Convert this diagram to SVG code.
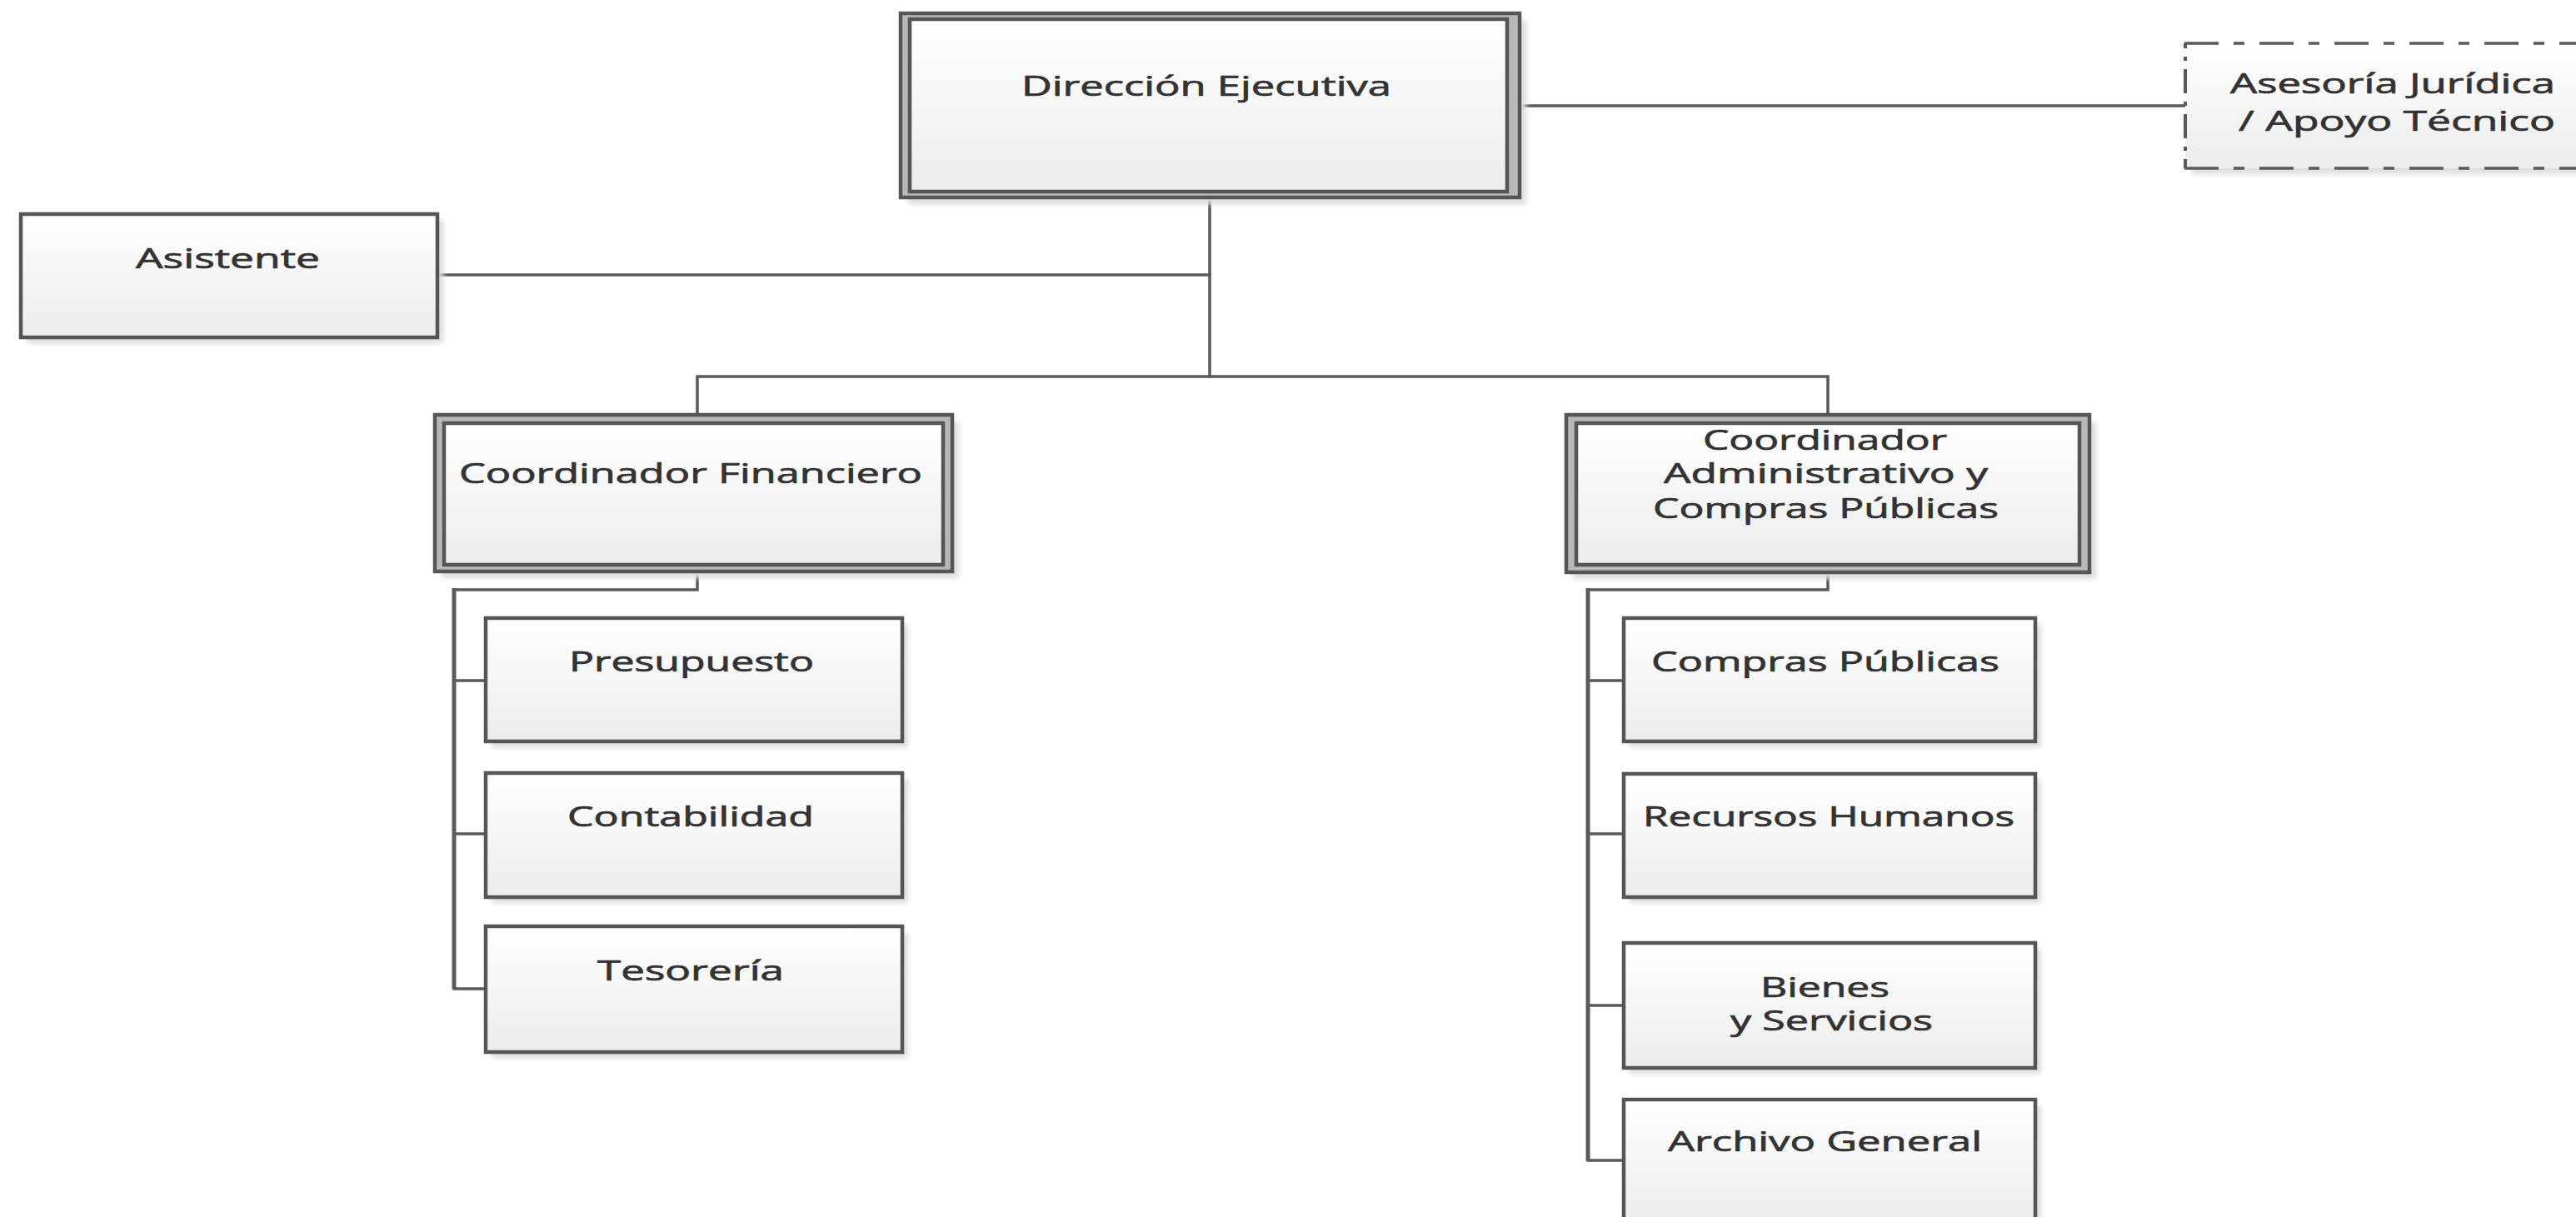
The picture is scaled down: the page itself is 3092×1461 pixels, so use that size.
<svg xmlns="http://www.w3.org/2000/svg" width="3092" height="1461" viewBox="0 0 3092 1461">
<defs>
<linearGradient id="fillg" x1="0" y1="0" x2="0" y2="1">
<stop offset="0" stop-color="#ffffff"/>
<stop offset="1" stop-color="#ececec"/>
</linearGradient>
<filter id="blur" x="-5%" y="-5%" width="110%" height="110%">
<feGaussianBlur stdDeviation="3"/>
</filter>
</defs>
<style>
.shadow{fill:#dcdcdc;filter:url(#blur)}
.box{fill:url(#fillg);stroke:#555555;stroke-width:4.5}
.outer{fill:#b8b8b8;stroke:#555555;stroke-width:4.5}
.inner{fill:url(#fillg);stroke:#555555;stroke-width:4.5}
.conn{fill:none;stroke:#5a5a5a;stroke-width:3.5;stroke-linejoin:miter;stroke-linecap:square}
.spine{fill:none;stroke:#5a5a5a;stroke-width:5}
.lbl{font-family:"Open Sans","Noto Sans","DejaVu Sans",sans-serif;font-size:33px;fill:#333333;stroke:#333333;stroke-width:0.7}
.dashh{fill:none;stroke:#5a5a5a;stroke-width:3.5;stroke-dasharray:41 18 13 18}
.dashv{fill:none;stroke:#5a5a5a;stroke-width:4;stroke-dasharray:29 10 5 10;stroke-dashoffset:23}
</style>
<rect width="3092" height="1461" fill="#ffffff"/>

<g id="connectors">
<polyline class="conn" points="1452,237 1452,452"/>
<polyline class="conn" points="525,330 1452,330"/>
<polyline class="conn" points="1824,127 2623,127"/>
<polyline class="conn" points="837,498 837,452 2194,452 2194,498"/>
<polyline class="conn" points="837,686 837,708 545,708"/>
<polyline class="spine" points="545,706 545,1187"/>
<polyline class="conn" points="545,817 583,817"/>
<polyline class="conn" points="545,1001 583,1001"/>
<polyline class="conn" points="545,1187 583,1187"/>
<polyline class="conn" points="2194,687 2194,708 1906,708"/>
<polyline class="spine" points="1906,706 1906,1393"/>
<polyline class="conn" points="1906,817 1949,817"/>
<polyline class="conn" points="1906,1001 1949,1001"/>
<polyline class="conn" points="1906,1207 1949,1207"/>
<polyline class="conn" points="1906,1393 1949,1393"/>
</g>

<g id="direccion">
<rect class="shadow" x="1089" y="24" width="743" height="221"/>
<rect class="outer" x="1081" y="16" width="743" height="221"/>
<rect class="inner" x="1092" y="23" width="717" height="207"/>
<text class="lbl" x="1226" y="115" textLength="444" lengthAdjust="spacingAndGlyphs">Dirección Ejecutiva</text>
</g>

<g id="asesoria">
<rect class="shadow" x="2630" y="59" width="470" height="150"/>
<rect x="2623" y="52" width="480" height="150" fill="url(#fillg)"/>
<line class="dashh" x1="2622" y1="52" x2="3092" y2="52"/>
<line class="dashh" x1="2622" y1="202" x2="3092" y2="202"/>
<line class="dashv" x1="2623" y1="52" x2="2623" y2="202"/>
<text class="lbl" x="2677" y="112" textLength="390" lengthAdjust="spacingAndGlyphs">Asesoría Jurídica</text>
<text class="lbl" x="2687" y="157" textLength="380" lengthAdjust="spacingAndGlyphs">/ Apoyo Técnico</text>
</g>

<g id="asistente">
<rect class="shadow" x="32" y="264" width="500" height="148"/>
<rect class="box" x="25" y="257" width="500" height="148"/>
<text class="lbl" x="163" y="322" textLength="221" lengthAdjust="spacingAndGlyphs">Asistente</text>
</g>

<g id="coord-financiero">
<rect class="shadow" x="530" y="506" width="621" height="188"/>
<rect class="outer" x="522" y="498" width="621" height="188"/>
<rect class="inner" x="533" y="508" width="599" height="170"/>
<text class="lbl" x="551" y="580" textLength="556" lengthAdjust="spacingAndGlyphs">Coordinador Financiero</text>
</g>

<g id="coord-administrativo">
<rect class="shadow" x="1888" y="506" width="628" height="189"/>
<rect class="outer" x="1880" y="498" width="628" height="189"/>
<rect class="inner" x="1892" y="508" width="604" height="170"/>
<text class="lbl" x="2044" y="540" textLength="293" lengthAdjust="spacingAndGlyphs">Coordinador</text>
<text class="lbl" x="1997" y="580" textLength="389" lengthAdjust="spacingAndGlyphs">Administrativo y</text>
<text class="lbl" x="1984" y="622" textLength="415" lengthAdjust="spacingAndGlyphs">Compras Públicas</text>
</g>

<g id="presupuesto">
<rect class="shadow" x="590" y="749" width="500" height="148"/>
<rect class="box" x="583" y="742" width="500" height="148"/>
<text class="lbl" x="683" y="806" textLength="294" lengthAdjust="spacingAndGlyphs">Presupuesto</text>
</g>

<g id="contabilidad">
<rect class="shadow" x="590" y="935" width="500" height="149"/>
<rect class="box" x="583" y="928" width="500" height="149"/>
<text class="lbl" x="681" y="992" textLength="296" lengthAdjust="spacingAndGlyphs">Contabilidad</text>
</g>

<g id="tesoreria">
<rect class="shadow" x="590" y="1119" width="500" height="151"/>
<rect class="box" x="583" y="1112" width="500" height="151"/>
<text class="lbl" x="717" y="1177" textLength="224" lengthAdjust="spacingAndGlyphs">Tesorería</text>
</g>

<g id="compras-publicas">
<rect class="shadow" x="1956" y="749" width="494" height="148"/>
<rect class="box" x="1949" y="742" width="494" height="148"/>
<text class="lbl" x="1982" y="806" textLength="418" lengthAdjust="spacingAndGlyphs">Compras Públicas</text>
</g>

<g id="recursos-humanos">
<rect class="shadow" x="1956" y="936" width="494" height="148"/>
<rect class="box" x="1949" y="929" width="494" height="148"/>
<text class="lbl" x="1972" y="992" textLength="446" lengthAdjust="spacingAndGlyphs">Recursos Humanos</text>
</g>

<g id="bienes-servicios">
<rect class="shadow" x="1956" y="1139" width="494" height="150"/>
<rect class="box" x="1949" y="1132" width="494" height="150"/>
<text class="lbl" x="2113" y="1197" textLength="155" lengthAdjust="spacingAndGlyphs">Bienes</text>
<text class="lbl" x="2077" y="1237" textLength="243" lengthAdjust="spacingAndGlyphs">y Servicios</text>
</g>

<g id="archivo-general">
<rect class="shadow" x="1956" y="1327" width="494" height="150"/>
<rect class="box" x="1949" y="1320" width="494" height="150"/>
<text class="lbl" x="2002" y="1382" textLength="377" lengthAdjust="spacingAndGlyphs">Archivo General</text>
</g>
</svg>
